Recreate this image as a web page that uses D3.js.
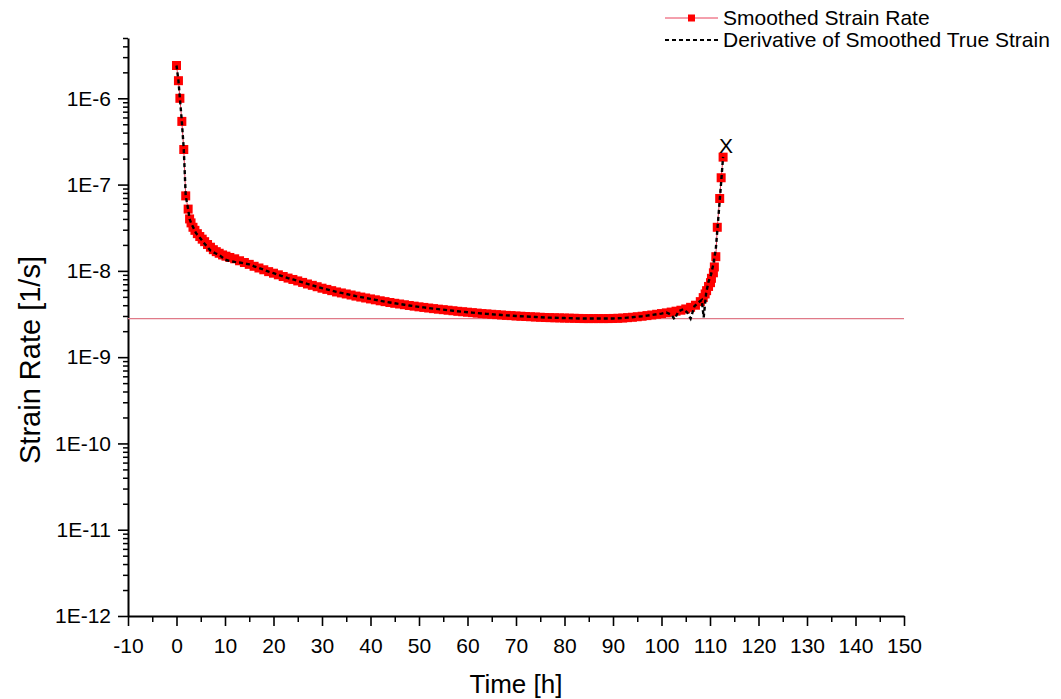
<!DOCTYPE html>
<html><head><meta charset="utf-8">
<script src="https://cdn.jsdelivr.net/npm/d3@7"></script>
<style>body{margin:0;background:#fff} text{font-family:"Liberation Sans",Arial,sans-serif}</style>
</head><body><svg id="c" width="1061" height="699"></svg>
<script>
// ---------- data ----------
const smoothTime = [0,0.4,0.7,1.1,1.5,1.9,2.4,2.7,3.0,3.4,3.8,4.3,4.8,5.3,5.8,6.4,7.0,7.6,8.2,8.8,9.5,10.2,11,
 12,13,14,15,16,17,18,19,20,21,22,23,24,25,26,27,28,29,30,31,32,33,34,35,36,37,38,39,40,
 41,42,43,44,45,46,47,48,49,50,51,52,53,54,55,56,57,58,59,60,61,62,63,64,65,66,67,68,69,70,
 71,72,73,74,75,76,77,78,79,80,81,82,83,84,85,86,87,88,89,90,91,92,93,94,95,96,97,98,99,100,
 101,102,103,104,105,106,107,108,108.6,109.0,109.3,109.7,110.1,110.3,110.7,110.9,111.2,111.5,112.0,112.3,112.7];
const smoothRate = [2.4e-6,1.6e-6,1.0e-6,5.4e-7,2.55e-7,7.4e-8,5.2e-8,4.0e-8,3.6e-8,3.2e-8,2.95e-8,2.7e-8,2.5e-8,2.33e-8,2.18e-8,2.02e-8,1.88e-8,1.76e-8,1.67e-8,1.6e-8,1.53e-8,1.48e-8,1.43e-8,
 1.38e-8,1.31e-8,1.25e-8,1.19e-8,1.13e-8,1.08e-8,1.03e-8,9.8e-9,9.4e-9,9.0e-9,8.6e-9,8.25e-9,7.95e-9,7.65e-9,7.35e-9,7.05e-9,6.8e-9,6.55e-9,6.3e-9,6.1e-9,5.9e-9,5.7e-9,5.55e-9,5.4e-9,5.25e-9,5.1e-9,4.97e-9,4.85e-9,4.73e-9,
 4.62e-9,4.5e-9,4.4e-9,4.3e-9,4.21e-9,4.13e-9,4.05e-9,3.97e-9,3.9e-9,3.83e-9,3.77e-9,3.71e-9,3.65e-9,3.6e-9,3.55e-9,3.5e-9,3.45e-9,3.4e-9,3.36e-9,3.32e-9,3.28e-9,3.24e-9,3.2e-9,3.17e-9,3.14e-9,3.11e-9,3.08e-9,3.05e-9,3.03e-9,3.0e-9,
 2.98e-9,2.96e-9,2.94e-9,2.92e-9,2.9e-9,2.88e-9,2.87e-9,2.86e-9,2.85e-9,2.84e-9,2.83e-9,2.82e-9,2.81e-9,2.8e-9,2.8e-9,2.8e-9,2.8e-9,2.8e-9,2.8e-9,2.81e-9,2.82e-9,2.84e-9,2.87e-9,2.9e-9,2.94e-9,2.98e-9,3.03e-9,3.08e-9,3.14e-9,3.2e-9,
 3.26e-9,3.33e-9,3.41e-9,3.5e-9,3.62e-9,3.78e-9,4.0e-9,4.4e-9,4.9e-9,5.4e-9,5.9e-9,6.6e-9,7.3e-9,8.2e-9,9.5e-9,1.11e-8,1.46e-8,3.2e-8,6.9e-8,1.2e-7,2.08e-7];

const derivTime = [0,0.4,0.7,1.1,1.5,1.9,2.4,2.7,3.0,4,5,6,7,8,9,10,11,12,13,14,
 15,16,17,18,19,20,21,22,23,24,25,26,27,28,29,30,31,32,33,34,35,36,37,38,39,40,
 41,42,43,44,45,46,47,48,49,50,51,52,53,54,55,56,57,58,59,60,61,62,63,64,65,66,67,68,69,70,
 71,72,73,74,75,76,77,78,79,80,81,82,83,84,85,86,87,88,89,90,91,92,93,94,95,96,97,98,99,100,
 101,102,102.7,103.5,104.5,105.3,106,106.8,107.6,108.3,108.7,109.2,109.7,110.2,110.7,111.2,111.7,112.2,112.7];
const derivRate = [2.4e-6,1.6e-6,1.0e-6,5.4e-7,2.55e-7,7.4e-8,5.2e-8,4.0e-8,3.6e-8,2.75e-8,2.35e-8,2.0e-8,1.72e-8,1.6e-8,1.5e-8,1.35e-8,1.3e-8,1.27e-8,1.25e-8,1.22e-8,
 1.19e-8,1.13e-8,1.08e-8,1.03e-8,9.8e-9,9.4e-9,9.0e-9,8.6e-9,8.25e-9,7.95e-9,7.65e-9,7.35e-9,7.05e-9,6.8e-9,6.55e-9,6.3e-9,6.1e-9,5.9e-9,5.7e-9,5.55e-9,5.4e-9,5.25e-9,5.1e-9,4.97e-9,4.85e-9,4.73e-9,
 4.62e-9,4.5e-9,4.4e-9,4.3e-9,4.21e-9,4.13e-9,4.05e-9,3.97e-9,3.9e-9,3.83e-9,3.77e-9,3.71e-9,3.65e-9,3.6e-9,3.55e-9,3.5e-9,3.45e-9,3.4e-9,3.36e-9,3.32e-9,3.28e-9,3.24e-9,3.2e-9,3.17e-9,3.14e-9,3.11e-9,3.08e-9,3.05e-9,3.03e-9,3.0e-9,
 2.98e-9,2.96e-9,2.94e-9,2.92e-9,2.9e-9,2.88e-9,2.87e-9,2.86e-9,2.85e-9,2.84e-9,2.83e-9,2.82e-9,2.81e-9,2.8e-9,2.8e-9,2.8e-9,2.8e-9,2.8e-9,2.8e-9,2.81e-9,2.82e-9,2.84e-9,2.87e-9,2.9e-9,2.94e-9,2.98e-9,3.03e-9,3.08e-9,3.14e-9,3.2e-9,
 3.3e-9,3.1e-9,2.75e-9,3.4e-9,3.6e-9,3.3e-9,2.8e-9,3.9e-9,4.3e-9,4.6e-9,2.9e-9,5.5e-9,7.5e-9,9.0e-9,1.2e-8,1.8e-8,4.0e-8,9.0e-8,2.1e-7];

const refLineTime = [-10, 150];
const refLineRate = [2.8e-9, 2.8e-9];
const failTime = [113.3];
const failRate = [2.83e-7];

const xTicks = [-10,0,10,20,30,40,50,60,70,80,90,100,110,120,130,140,150];
const xMinorTicks = [-5,5,15,25,35,45,55,65,75,85,95,105,115,125,135,145];
const yTicks = [1e-12,1e-11,1e-10,1e-9,1e-8,1e-7,1e-6];
const yTickLabels = ["1E-12","1E-11","1E-10","1E-9","1E-8","1E-7","1E-6"];
const seriesNames = ["Smoothed Strain Rate","Derivative of Smoothed True Strain"];
const xTitle = "Time [h]";
const yTitle = "Strain Rate [1/s]";

// ---------- chart ----------
const svg = d3.select("#c");
const L = 128, R = 904, T = 38, B = 616;
const x = d3.scaleLinear().domain([-10,150]).range([L,R]);
const y = d3.scaleLog().domain([1e-12,5e-6]).range([B,T]);

const yMinor = y.ticks().filter(v => !yTicks.some(t => Math.abs(t - v) / t < 1e-6));

// minor ticks
const gxm = svg.append("g").attr("transform",`translate(0,${B})`)
  .call(d3.axisBottom(x).tickValues(xMinorTicks).tickSize(6).tickFormat(""));
const gym = svg.append("g").attr("transform",`translate(${L},0)`)
  .call(d3.axisLeft(y).tickValues(yMinor).tickSize(5).tickFormat(""));
[gxm,gym].forEach(g => { g.select(".domain").remove(); g.selectAll("line").attr("stroke","#000").attr("stroke-width",1.5); });

// major axes
const gx = svg.append("g").attr("transform",`translate(0,${B})`)
  .call(d3.axisBottom(x).tickValues(xTicks).tickSize(10).tickSizeOuter(0).tickPadding(12)
    .tickFormat(d => String(d)));
const gy = svg.append("g").attr("transform",`translate(${L},0)`)
  .call(d3.axisLeft(y).tickValues(yTicks).tickSize(10).tickSizeOuter(0).tickPadding(7)
    .tickFormat((d,i) => yTickLabels[i]));
[gx,gy].forEach(g => {
  g.select(".domain").attr("stroke","#000").attr("stroke-width",2);
  g.selectAll(".tick line").attr("stroke","#000").attr("stroke-width",1.6);
  g.selectAll("text").attr("fill","#000").style("font-size","21px").style("font-family","'Liberation Sans',Arial,sans-serif");
});

// titles
svg.append("text").attr("x",516).attr("y",693).attr("text-anchor","middle")
  .style("font-size","26px").text(xTitle);
svg.append("text").attr("transform",`translate(40,360) rotate(-90)`).attr("text-anchor","middle")
  .style("font-size","29px").text(yTitle);

// reference line
const refData = refLineTime.map((t,i)=>[t,refLineRate[i]]);
svg.append("path").datum(refData)
  .attr("d", d3.line().x(d=>x(d[0])).y(d=>y(d[1])))
  .attr("fill","none").attr("stroke","#e07a88").attr("stroke-width",1.2);

// smoothed
const sData = smoothTime.map((t,i)=>[t,smoothRate[i]]);
svg.append("path").datum(sData)
  .attr("d", d3.line().x(d=>x(d[0])).y(d=>y(d[1])))
  .attr("fill","none").attr("stroke","#e8405a").attr("stroke-width",1);
const ms = 9;
svg.append("g").selectAll("rect").data(sData).join("rect")
  .attr("x", d=>x(d[0])-ms/2).attr("y", d=>y(d[1])-ms/2)
  .attr("width",ms).attr("height",ms).attr("fill","#ff0000");

// derivative
const dData = derivTime.map((t,i)=>[t,derivRate[i]]);
svg.append("path").datum(dData)
  .attr("d", d3.line().x(d=>x(d[0])).y(d=>y(d[1])))
  .attr("fill","none").attr("stroke","#000").attr("stroke-width",2.4)
  .attr("stroke-dasharray","4,3");

// failure mark
svg.append("g").selectAll("text").data(failTime.map((t,i)=>[t,failRate[i]])).join("text")
  .attr("x",d=>x(d[0])).attr("y",d=>y(d[1])).attr("text-anchor","middle")
  .attr("dominant-baseline","central").style("font-size","21px").text("X");

// legend
const lg = svg.append("g");
lg.append("line").attr("x1",665).attr("x2",718).attr("y1",18).attr("y2",18)
  .attr("stroke","#e8405a").attr("stroke-width",1);
lg.append("rect").attr("x",691.5-3.5).attr("y",18-3.5).attr("width",7).attr("height",7).attr("fill","#ff0000");
lg.append("text").attr("x",723).attr("y",25).style("font-size","21px").text(seriesNames[0]);
lg.append("line").attr("x1",665).attr("x2",718).attr("y1",40).attr("y2",40)
  .attr("stroke","#000").attr("stroke-width",2).attr("stroke-dasharray","4,3");
lg.append("text").attr("x",723).attr("y",47).style("font-size","21px").text(seriesNames[1]);
</script>
</body></html>
